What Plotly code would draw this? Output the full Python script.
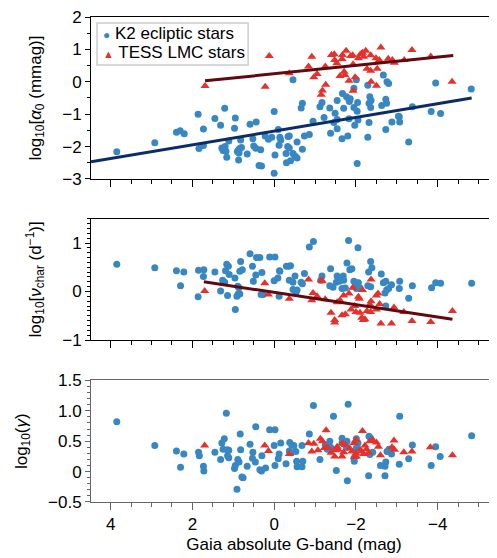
import plotly.graph_objects as go
from plotly.subplots import make_subplots

# ---------------- data (Gaia absolute G mag, value) ----------------
k2_amplitude = [
    (3.85,-2.16),(2.92,-1.88),(2.39,-1.56),(2.30,-1.51),(2.20,-1.60),(1.86,-1.00),(1.84,-2.06),(1.73,-1.46),
    (1.73,-1.97),(1.45,-1.13),(1.31,-1.34),(1.21,-0.82),(1.28,-2.04),(1.24,-2.10),(1.20,-2.00),(1.18,-2.14),
    (1.25,-2.12),(1.16,-2.33),(1.11,-1.83),(0.95,-1.12),(0.97,-1.43),(0.90,-2.15),(0.87,-2.10),(0.84,-2.06),
    (0.80,-2.03),(0.86,-2.20),(0.87,-2.41),(0.82,-1.80),(0.66,-2.23),(0.59,-1.31),(0.44,-1.24),(0.52,-1.76),
    (0.50,-1.98),(0.45,-2.05),(0.33,-2.10),(0.37,-2.58),(0.31,-2.60),(0.22,-1.67),(0.00,-0.92),(0.06,-1.71),
    (0.14,-1.77),(-0.02,-2.26),(0.00,-2.82),(-0.10,-1.47),(-0.14,-1.71),(-0.16,-1.80),(-0.12,-1.96),(-0.34,-1.69),
    (-0.33,-2.00),(-0.29,-2.21),(-0.30,-2.50),(-0.40,-2.44),(-0.37,-1.67),(-0.74,-1.67),(-0.86,-1.63),(-0.56,-1.86),
    (-0.37,-2.04),(-0.69,-2.08),(-0.46,-2.21),(-0.51,-2.29),(-0.56,-2.35),(-0.46,0.06),(-0.66,-0.81),(-0.69,-0.66),
    (-1.17,-0.64),(-1.12,-0.77),(-1.36,-0.81),(-1.70,-0.82),(-2.03,-0.91),(-1.49,-0.97),(-0.95,-1.22),(-1.22,-1.10),
    (-1.46,-1.26),(-1.54,-1.16),(-1.83,-1.14),(-2.05,-1.18),(-2.32,-1.26),(-1.97,-1.34),(-1.54,-1.45),(-2.73,-1.47),
    (-2.88,-1.24),(-3.04,-1.06),(-1.38,-1.59),(-1.66,-1.76),(-1.80,-1.67),(-2.29,-1.71),(-2.03,-2.52),(-2.67,0.21),
    (-2.76,0.00),(-2.80,-0.05),(-2.01,0.06),(-2.29,-0.11),(-1.95,-0.20),(-1.67,-0.36),(-1.77,-0.46),(-1.83,-0.55),
    (-1.86,-0.52),(-1.84,-0.61),(-1.54,-0.58),(-2.04,-0.64),(-1.95,-0.79),(-2.34,-0.46),(-2.37,-0.58),(-2.32,-0.66),
    (-2.36,-0.79),(-2.73,-0.54),(-2.75,-0.66),(-2.63,-0.73),(-3.95,-0.04),(-4.82,-0.22),(-3.38,-0.77),(-3.84,-0.92),
    (-4.07,-0.98),(-3.07,-1.24),(-3.06,-1.08),(-3.29,-1.86),
]
tess_amplitude = [
    (1.69,-0.13),(0.22,-0.15),(0.12,0.80),(-0.37,0.26),(-0.84,0.47),(-0.92,0.77),(-0.97,0.14),(-1.05,0.24),
    (-1.15,-0.40),(-1.18,-0.27),(-1.26,-0.09),(-1.25,0.47),(-1.40,0.83),(-1.47,0.85),(-1.48,0.67),(-1.53,0.57),
    (-1.61,0.18),(-1.67,0.83),(-1.66,0.70),(-1.71,0.31),(-1.73,0.21),(-1.76,0.96),(-1.83,0.03),(-1.87,0.80),
    (-1.92,0.82),(-1.93,0.54),(-1.98,0.14),(-1.93,-0.28),(-2.06,0.73),(-2.11,0.85),(-2.16,0.90),(-2.19,0.77),
    (-2.24,0.96),(-2.36,0.82),(-2.27,0.40),(-2.36,0.34),(-2.52,0.40),(-2.49,0.73),(-2.57,0.67),(-2.61,1.06),
    (-2.37,0.00),(-2.50,-0.12),(-2.89,0.67),(-2.94,0.59),(-2.79,0.71),(-3.18,0.67),(-3.37,0.98),(-3.83,0.78),
    (-4.35,0.00),
]
k2_nuchar = [
    (3.85,0.56),(2.92,0.49),(2.39,0.43),(2.21,0.40),(2.29,0.12),(1.85,0.44),(1.72,0.45),(1.73,0.31),(1.86,-0.11),
    (1.45,0.40),(1.26,0.23),(1.21,0.19),(1.31,0.01),(1.16,0.56),(1.12,0.52),(1.19,0.43),(1.10,0.35),(1.14,-0.08),
    (0.96,0.28),(0.95,-0.37),(0.89,0.11),(0.86,0.08),(0.91,-0.10),(0.88,-0.05),(0.82,0.62),(0.84,0.42),(0.78,0.45),
    (0.59,0.78),(0.53,0.52),(0.45,0.34),(0.51,0.21),(0.30,0.39),(0.43,0.70),(0.35,0.70),(0.11,0.71),(-0.02,0.71),
    (-0.13,0.43),(-0.09,0.28),(0.00,0.22),(-0.30,0.52),(-0.36,0.52),(0.32,-0.06),(0.27,-0.06),(-0.12,-0.10),
    (-0.14,0.42),(-0.40,0.53),(-0.37,0.23),(-0.46,0.19),(-0.51,0.32),(-0.46,0.04),(-0.56,0.03),(-0.53,-0.03),
    (-0.66,0.19),(-0.69,0.16),(-0.74,0.37),(-0.86,0.92),(-0.96,1.03),(-1.17,0.32),(-1.14,0.23),(-1.38,0.47),
    (-1.36,0.12),(-1.44,0.09),(-1.54,0.32),(-1.52,0.19),(-1.59,0.21),(-1.69,0.32),(-1.70,0.23),(-1.66,0.06),
    (-1.74,0.07),(-1.82,1.05),(-2.05,0.90),(-1.78,0.59),(-1.85,0.45),(-1.90,0.47),(-1.95,0.21),(-2.00,0.18),
    (-2.03,0.14),(-2.06,0.18),(-2.01,0.06),(-2.10,0.07),(-2.36,0.62),(-2.39,0.49),(-2.31,0.40),(-2.29,0.12),
    (-2.36,0.10),(-2.62,0.36),(-2.67,0.18),(-2.73,0.21),(-2.87,0.14),(-2.75,0.03),(-2.80,0.06),(-2.71,-0.03),
    (-3.07,0.21),(-3.06,0.06),(-3.38,0.12),(-3.29,-0.14),(-2.73,-0.30),(-3.85,0.08),(-3.95,0.18),(-4.07,0.17),
    (-4.83,0.17),(0.84,-0.05),
]
tess_nuchar = [
    (1.70,0.01),(0.23,0.17),(0.14,-0.06),(-0.37,-0.15),(-0.84,0.25),(-0.95,-0.03),(-0.92,-0.18),(-1.05,-0.10),
    (-1.15,0.23),(-1.18,0.21),(-1.25,-0.16),(-1.39,-0.44),(-1.48,-0.59),(-1.48,-0.64),(-1.54,-0.22),(-1.61,-0.18),
    (-1.70,-0.08),(-1.83,-0.04),(-1.66,-0.49),(-1.74,-0.47),(-1.92,0.08),(-1.88,-0.37),(-1.97,-0.30),(-2.00,-0.42),
    (-2.06,-0.11),(-2.08,-0.15),(-2.16,0.03),(-2.14,-0.54),(-2.18,-0.59),(-2.22,-0.57),(-2.10,-0.44),(-2.27,-0.40),
    (-2.37,-0.20),(-2.34,-0.27),(-2.37,0.25),(-2.36,-0.42),(-2.50,-0.08),(-2.54,-0.04),(-2.50,-0.37),(-2.58,-0.26),
    (-2.61,-0.66),(-2.87,-0.66),(-2.93,-0.33),(-3.17,-0.42),(-3.37,-0.61),(-3.83,-0.63),(-4.36,-0.40),
]
k2_gamma = [
    (3.85,0.82),(2.92,0.43),(2.39,0.34),(2.21,0.29),(2.29,0.07),(1.85,0.32),(1.83,0.26),(1.73,0.09),(1.72,0.01),
    (1.45,0.32),(1.31,0.20),(1.28,0.47),(1.22,0.54),(1.25,0.37),(1.17,0.96),(1.15,0.36),(1.11,0.35),(1.14,0.26),
    (1.11,0.23),(0.97,0.05),(0.95,0.10),(0.89,0.20),(0.86,0.16),(0.91,-0.29),(0.83,0.62),(0.82,0.36),(0.79,-0.09),
    (0.76,-0.10),(0.66,0.09),(0.59,0.45),(0.52,0.32),(0.53,0.22),(0.46,0.16),(0.45,0.74),(0.35,0.03),(0.31,0.01),
    (0.21,0.06),(0.30,0.26),(0.11,0.69),(-0.02,0.69),(0.00,0.43),(-0.02,0.10),(-0.10,0.21),(-0.12,0.29),(-0.16,0.47),
    (-0.29,0.13),(-0.38,0.48),(-0.43,0.44),(-0.48,0.43),(-0.37,0.34),(-0.42,0.31),(-0.55,0.17),(-0.70,0.17),
    (-0.56,0.08),(-0.68,0.08),(-0.53,0.33),(-0.68,0.43),(-0.86,0.62),(-0.96,1.09),(-1.12,0.20),(-1.36,0.50),
    (-1.38,0.40),(-1.45,0.91),(-1.52,0.02),(-1.66,0.55),(-1.66,0.47),(-1.78,0.50),(-1.77,0.40),(-1.81,1.11),
    (-1.79,-0.15),(-1.96,0.17),(-1.95,0.22),(-2.01,0.39),(-2.05,0.47),(-2.31,-0.07),(-2.32,0.58),(-2.36,0.55),
    (-2.34,0.28),(-2.41,0.32),(-2.60,0.10),(-2.71,0.09),(-2.73,0.16),(-2.71,-0.07),(-2.76,0.33),(-2.81,0.37),
    (-2.87,0.29),(-3.06,0.12),(-3.07,0.91),(-3.29,0.21),(-3.38,0.44),(-3.84,0.10),(-3.95,0.41),(-4.06,0.25),
    (-4.83,0.59),(-1.30,0.37),(-1.25,0.44),(-2.01,0.54),
]
tess_gamma = [
    (1.70,0.43),(0.23,0.43),(0.14,0.34),(-0.37,0.29),(-0.84,0.47),(-0.97,0.46),(-0.92,0.33),(-1.07,0.35),
    (-1.13,0.54),(-1.18,0.50),(-1.27,0.68),(-1.23,0.39),(-1.31,0.40),(-1.39,0.31),(-1.48,0.25),(-1.49,0.35),
    (-1.54,0.41),(-1.57,0.36),(-1.66,0.25),(-1.70,0.32),(-1.67,0.47),(-1.74,0.44),(-1.85,0.38),(-1.90,0.33),
    (-1.97,0.24),(-2.00,0.30),(-1.95,0.47),(-2.00,0.52),(-2.10,0.36),(-2.14,0.33),(-2.19,0.29),(-2.16,0.67),
    (-2.22,0.43),(-2.26,0.37),(-2.34,0.50),(-2.41,0.52),(-2.31,0.31),(-2.50,0.48),(-2.55,0.41),(-2.60,0.27),
    (-2.88,0.40),(-2.93,0.51),(-2.94,0.36),(-3.17,0.32),(-3.37,0.33),(-3.82,0.40),(-4.36,0.27),(-2.01,0.25),
]

# linear fits: (slope, intercept, x_start, x_end)
k2_amp_fit = (-0.2116, -1.522, 4.48, -4.83)
tess_amp_fit = (-0.1285, 0.247, 1.69, -4.38)
tess_nu_fit = (0.1266, -0.018, 1.72, -4.36)

series_names = ["K2 ecliptic stars", "TESS LMC stars"]
gamma_ticks = [-0.5, 0, 0.5, 1.0, 1.5]
gamma_ticktext = ["\u22120.5", "0", "0.5", "1.0", "1.5"]

# ---------------- styling ----------------
BLUE = "#3787c3"
RED = "#e5302b"
NAVY = "#0d2b66"
MAROON = "#600a10"
FONT = "Liberation Sans, Arial, sans-serif"

fig = make_subplots(rows=3, cols=1, shared_xaxes=True)


def unzip(pairs):
    return [p[0] for p in pairs], [p[1] for p in pairs]


def fit_line(params):
    s, b, x0, x1 = params
    return [x0, x1], [s * x0 + b, s * x1 + b]


panels = [
    (1, k2_amplitude, tess_amplitude),
    (2, k2_nuchar, tess_nuchar),
    (3, k2_gamma, tess_gamma),
]
for row, k2, tess in panels:
    kx, ky = unzip(k2)
    tx, ty = unzip(tess)
    fig.add_trace(go.Scatter(x=kx, y=ky, mode="markers", name=series_names[0],
                             marker=dict(symbol="circle", size=7, color=BLUE),
                             showlegend=False), row=row, col=1)
    fig.add_trace(go.Scatter(x=tx, y=ty, mode="markers", name=series_names[1],
                             marker=dict(symbol="triangle-up", size=8, color=RED),
                             showlegend=False), row=row, col=1)

lx, ly = fit_line(k2_amp_fit)
fig.add_trace(go.Scatter(x=lx, y=ly, mode="lines", line=dict(color=NAVY, width=3), showlegend=False), row=1, col=1)
lx, ly = fit_line(tess_amp_fit)
fig.add_trace(go.Scatter(x=lx, y=ly, mode="lines", line=dict(color=MAROON, width=3), showlegend=False), row=1, col=1)
lx, ly = fit_line(tess_nu_fit)
fig.add_trace(go.Scatter(x=lx, y=ly, mode="lines", line=dict(color=MAROON, width=3), showlegend=False), row=2, col=1)

xcommon = dict(range=[4.48, -5.45], tickvals=[4, 2, 0, -2, -4], ticks="outside", ticklen=7, tickwidth=1,
               minor=dict(dtick=0.5, tick0=0, ticks="outside", ticklen=4, tickwidth=1),
               showline=True, mirror=True, linewidth=1, showgrid=False, zeroline=False, automargin=False,
               ticklabeloverflow="allow", tickfont=dict(size=17, color="black"))
for i, lc in [(1, "black"), (2, "black"), (3, "#666666")]:
    key = "xaxis" if i == 1 else f"xaxis{i}"
    d = dict(xcommon)
    d["linecolor"] = lc
    d["tickcolor"] = lc
    d["minor"] = dict(xcommon["minor"], tickcolor=lc)
    fig.layout[key].update(d)

fig.update_layout(xaxis3=dict(title=dict(text="Gaia absolute G-band (mag)", font=dict(size=17, color="black"),
                                         standoff=4)))

ycommon = dict(ticks="outside", ticklen=5, tickwidth=1, showline=True, mirror=False, linewidth=1,
               showgrid=False, zeroline=False, automargin=False, ticklabeloverflow="allow",
               tickfont=dict(size=17, color="black"))
fig.update_layout(
    yaxis=dict(ycommon, domain=[0.666, 1.0], range=[-3, 2], dtick=1, linecolor="black", tickcolor="black",
               minor=dict(dtick=0.5, ticks="outside", ticklen=3, tickcolor="black"),
               title=dict(text="log<sub>10</sub>[<i>\u03b1</i><sub>0</sub> (mmag)]", font=dict(size=17, color="black"),
                          standoff=16)),
    yaxis2=dict(ycommon, domain=[0.334, 0.584], range=[-1, 1.5], tickvals=[-1, 0, 1], linecolor="black",
                tickcolor="black",
                minor=dict(dtick=0.1, tick0=0, ticks="outside", ticklen=3, tickcolor="black"),
                title=dict(text="log<sub>10</sub>[<i>\u03bd</i><sub>char</sub> (d<sup>\u22121</sup>)]",
                           font=dict(size=17, color="black"), standoff=16)),
    yaxis3=dict(ycommon, domain=[0.0, 0.2506], range=[-0.5, 1.5], tickvals=gamma_ticks, ticktext=gamma_ticktext,
                linecolor="#666666", tickcolor="#666666",
                minor=dict(dtick=0.1, tick0=0, ticks="outside", ticklen=3, tickcolor="#666666"),
                title=dict(text="log<sub>10</sub>(<i>\u03b3</i>)", font=dict(size=17, color="black"), standoff=16)),
)

# legend drawn as a box with two text rows
legend_rows = [
    (f"<span style='color:{BLUE};font-size:12px'>\u25cf</span> {series_names[0]}", 0.965),
    (f"<span style='color:{RED};font-size:11px'>\u25b2</span> {series_names[1]}", 0.926),
]
annotations = [dict(text=t, xref="paper", yref="paper", x=0.024, y=yy, xanchor="left", yanchor="middle",
                    align="left", showarrow=False, font=dict(size=17, color="black"))
               for t, yy in legend_rows]

# the page body adds an 8 px offset, so the figure is 8 px smaller and margins compensate
fig.update_layout(
    width=489, height=550,
    margin=dict(l=83, r=0, t=9, b=56),
    paper_bgcolor="white", plot_bgcolor="white",
    font=dict(family=FONT, size=17, color="black"),
    showlegend=False,
    shapes=[dict(type="rect", xref="paper", yref="paper", x0=0.0148, x1=0.387, y0=0.901, y1=0.9876,
                 line=dict(color="#cccccc", width=1.5), fillcolor="white", layer="above")],
    annotations=annotations,
)

fig.write_html("out.html")
